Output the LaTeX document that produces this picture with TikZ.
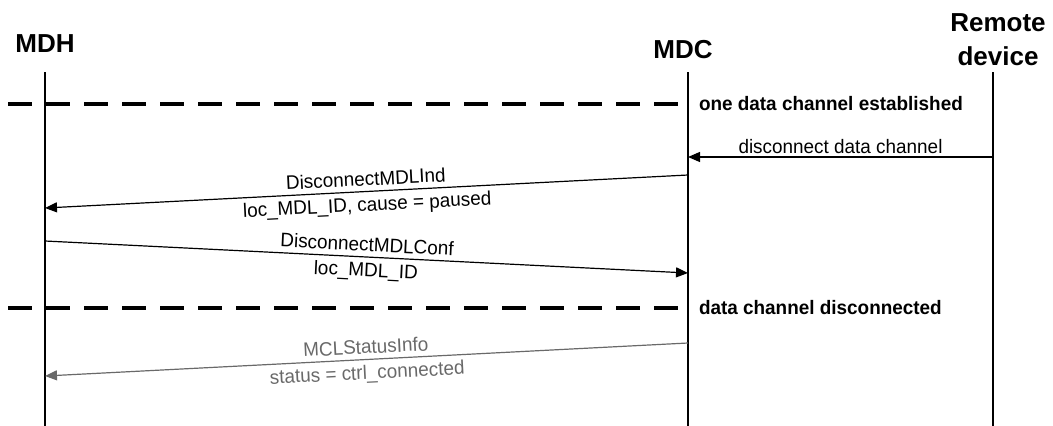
\documentclass[tikz,border=0pt]{standalone}
\usepackage{fontspec}
\setmainfont{Liberation Sans}
\newfontfamily\msgfont[FakeStretch=0.97]{Liberation Sans}
\usetikzlibrary{arrows.meta}
\tikzset{>={Triangle[length=12pt, width=10pt]}}
\definecolor{infogray}{RGB}{105,105,105}
\tikzset{
    head/.style={font=\fontsize{26}{34}\selectfont\bfseries, inner sep=0pt},
    life/.style={line width=1.2pt},
    phase/.style={line width=4pt, dash pattern=on 24pt off 14pt},
    phaselbl/.style={font=\msgfont\fontsize{19.5}{22}\selectfont\bfseries, anchor=west, inner sep=0pt, xshift=9pt},
    msg/.style={->, line width=1.2pt},
    lbl/.style={font=\msgfont\fontsize{19.5}{22}\selectfont, inner sep=5pt},
}

\begin{document}
\begin{tikzpicture}[x=1pt, y=-1pt]
    \useasboundingbox(0, 0)rectangle(1053, 426);
    % heads and lifelines
    \node[head](mdh)at(45, 44){MDH};
    \node[head](mdc)at(683, 50){MDC};
    \node[head, align=center](rem)at(998, 40){Remote\\device};
    \coordinate(mdhT)at(45, 72);  \coordinate(mdhB)at(45, 426);
    \coordinate(mdcT)at(688, 72); \coordinate(mdcB)at(688, 426);
    \coordinate(remT)at(993, 72); \coordinate(remB)at(993, 426);
    \draw[life](mdhT)--(mdhB);
    \draw[life](mdcT)--(mdcB);
    \draw[life](remT)--(remB);
    % states
    \coordinate(s1)at(8, 104); \coordinate(s1e)at(688, 104);
    \draw[phase](s1)--(s1e)node[phaselbl](st1){one data channel established};
    \coordinate(s2)at(8, 308); \coordinate(s2e)at(688, 308);
    \draw[phase](s2)--(s2e)node[phaselbl](st2){data channel disconnected};
    % messages
    \coordinate(r1)at(993, 157); \coordinate(c1)at(688, 157);
    \draw[msg](r1)--(c1)node[lbl, midway, above, inner sep=3pt](m1){disconnect data channel};
    \coordinate(c2)at(688, 175); \coordinate(h2)at(45, 208);
    \draw[msg](c2)--(h2)
        node[lbl, midway, sloped, above](m2){DisconnectMDLInd}
        node[lbl, midway, sloped, below](m2b){loc\_MDL\_ID, cause = paused};
    \coordinate(h3)at(45, 241); \coordinate(c3)at(688, 273);
    \draw[msg](h3)--(c3)
        node[lbl, midway, sloped, above](m3){DisconnectMDLConf}
        node[lbl, midway, sloped, below](m3b){loc\_MDL\_ID};
    \coordinate(c4)at(688, 343); \coordinate(h4)at(45, 376);
    \draw[msg, infogray](c4)--(h4)
        node[lbl, midway, sloped, above](m4){MCLStatusInfo}
        node[lbl, midway, sloped, below](m4b){status = ctrl\_connected};
\end{tikzpicture}
\end{document}
